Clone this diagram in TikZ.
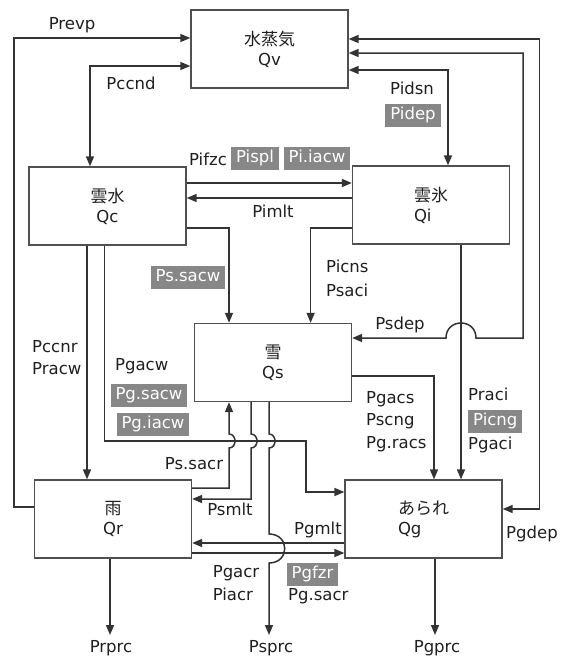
\documentclass[tikz,border=0pt]{standalone}
\usepackage{fontspec}
\setmainfont{DejaVu Sans}
\newfontfamily\jp{Noto Sans CJK JP}
\usetikzlibrary{arrows.meta}
\definecolor{linec}{HTML}{333333}
\definecolor{boxc}{HTML}{505050}
\definecolor{grayfill}{HTML}{878787}
\newcommand{\jpt}[1]{{\jp\fontsize{17}{20}\selectfont #1}}
\tikzset{
  every node/.style={font=\fontsize{16.5}{20}\selectfont, text=black!88},
  species/.style={draw=boxc, line width=1.3pt, minimum width=157pt, minimum height=78pt, inner sep=0pt, align=center},
  speciesl/.style={species, align=left},
  lbl/.style={inner sep=0pt, text height=12pt, text depth=3.5pt},
  glbl/.style={fill=grayfill, text=white, inner xsep=5pt, inner ysep=3.75pt, text height=12pt, text depth=3.5pt},
  flow/.style={draw=linec, line width=1.5pt, -{Triangle[length=10pt,width=8pt]}},
  flow2/.style={draw=linec, line width=1.5pt, {Triangle[length=10pt,width=8pt]}-{Triangle[length=10pt,width=8pt]}},
}
\begin{document}
\begin{tikzpicture}[x=1pt,y=-1pt]
\useasboundingbox (0,0) rectangle (565,659);
% boxes
\node[species]  (Qv) at (269.5,49)  {\jpt{水蒸気}\\Qv};
\node[species]  (Qc) at (107.5,206) {\jpt{雲水}\\Qc};
\node[speciesl] (Qi) at (431,205)   {\jpt{雲氷}\\Qi};
\node[species]  (Qs) at (273,362.5) {\jpt{雪}\\Qs};
\node[species]  (Qr) at (113,519)   {\jpt{雨}\\Qr};
\node[speciesl] (Qg) at (423.5,519) {\jpt{あられ}\\Qg};
% free ends
\coordinate (rprc) at (110,635);
\coordinate (sprc) at (269,635);
\coordinate (gprc) at (435,635);
% connectors
\draw[flow] (Qr.west |- 0,507) -- (14,507) -- (14,38) -- (Qv.west |- 0,38);
\draw[flow2] (Qv.west |- 0,66) -- (90,66) -- (Qc.north -| 90,0);
\draw[flow2] (Qv.east |- 0,39) -- (539.5,39) -- (539.5,509) -- (Qg.east |- 0,509);
\draw[flow2] (Qv.east |- 0,53) -- (523,53) -- (523,338) -- (476,338)
   .. controls (476,318) and (446,318) .. (446,338) -- (Qs.east |- 0,338);
\draw[flow2] (Qv.east |- 0,70) -- (448,70) -- (Qi.north -| 448,0);
\draw[flow] (Qc.east |- 0,183) -- (Qi.west |- 0,183);
\draw[flow] (Qi.west |- 0,198) -- (Qc.east |- 0,198);
\draw[flow] (Qc.east |- 0,228) -- (229,228) -- (Qs.north -| 229,0);
\draw[flow] (Qi.west |- 0,228) -- (310.6,228) -- (Qs.north -| 310.6,0);
\draw[flow] (Qi.south -| 461,0) -- (Qg.north -| 461,0);
\draw[flow] (Qs.east |- 0,376) -- (434,376) -- (Qg.north -| 434,0);
\draw[flow] (Qc.south -| 87,0) -- (Qr.north -| 87,0);
\draw[flow] (Qc.south -| 104.5,0) -- (104.5,441) -- (306,441) -- (306,492) -- (Qg.west |- 0,492);
\draw[flow] (Qr.east |- 0,488) -- (229,488) -- (229,448)
   .. controls (237,448) and (237,434) .. (229,434) -- (Qs.south -| 229,0);
\draw[flow] (Qs.south -| 251,0) -- (251,434)
   .. controls (259,434) and (259,448) .. (251,448) -- (251,499) -- (Qr.east |- 0,499);
\draw[flow] (Qs.south -| 269,0) -- (269,434)
   .. controls (277,434) and (277,448) .. (269,448) -- (269,534)
   .. controls (290,534) and (290,563) .. (269,563) -- (sprc);
\draw[flow] (Qg.west |- 0,543) -- (Qr.east |- 0,543);
\draw[flow] (Qr.east |- 0,553) -- (Qg.west |- 0,553);
\draw[flow] (Qr.south -| 110,0) -- (rprc);
\draw[flow] (Qg.south -| 435,0) -- (gprc);
% labels
\node[lbl] (lPrevp) at (72,25) {Prevp};
\node[lbl] (lPccnd) at (131,85) {Pccnd};
\node[lbl] (lPidsn) at (412,90) {Pidsn};
\node[glbl] (lPidep) at (413,115.5) {Pidep};
\node[lbl] (lPifzc) at (208,161.7) {Pifzc};
\node[glbl] (lPispl) at (255,158.5) {Pispl};
\node[glbl] (lPiiacw) at (317,158.5) {Pi.iacw};
\node[lbl] (lPimlt) at (273,213) {Pimlt};
\node[glbl] (lPssacw) at (188,277) {Ps.sacw};
\node[lbl,anchor=west] (lPicns) at (326,268.3) {Picns};
\node[lbl,anchor=west] (lPsaci) at (326,292.7) {Psaci};
\node[lbl] (lPsdep) at (400,325) {Psdep};
\node[lbl,anchor=west] (lPccnr) at (32,348) {Pccnr};
\node[lbl,anchor=west] (lPracw) at (32,370) {Pracw};
\node[lbl,anchor=west] (lPgacw) at (115,366.7) {Pgacw};
\node[glbl] (lPgsacw) at (149,395) {Pg.sacw};
\node[glbl] (lPgiacw) at (153,424.5) {Pg.iacw};
\node[lbl,anchor=west] (lPgacs) at (366,399.3) {Pgacs};
\node[lbl,anchor=west] (lPscng) at (366,421.7) {Pscng};
\node[lbl,anchor=west] (lPgracs) at (366,444) {Pg.racs};
\node[lbl,anchor=west] (lPraci) at (468,396.7) {Praci};
\node[glbl,anchor=west] (lPicng) at (468,421.7) {Picng};
\node[lbl,anchor=west] (lPgaci) at (468,445) {Pgaci};
\node[lbl] (lPssacr) at (194,465) {Ps.sacr};
\node[lbl] (lPsmlt) at (230,511.7) {Psmlt};
\node[lbl] (lPgmlt) at (318,530) {Pgmlt};
\node[lbl] (lPgdep) at (532,534) {Pgdep};
\node[lbl,anchor=west] (lPgacr) at (212.6,573.3) {Pgacr};
\node[lbl,anchor=west] (lPiacr) at (212.6,596) {Piacr};
\node[glbl,anchor=west] (lPgfzr) at (286.5,574) {Pgfzr};
\node[lbl,anchor=west] (lPgsacr) at (288,596.7) {Pg.sacr};
\node[lbl] (lPrprc) at (111,648) {Prprc};
\node[lbl] (lPsprc) at (271,648) {Psprc};
\node[lbl] (lPgprc) at (437,648) {Pgprc};
\end{tikzpicture}
\end{document}
